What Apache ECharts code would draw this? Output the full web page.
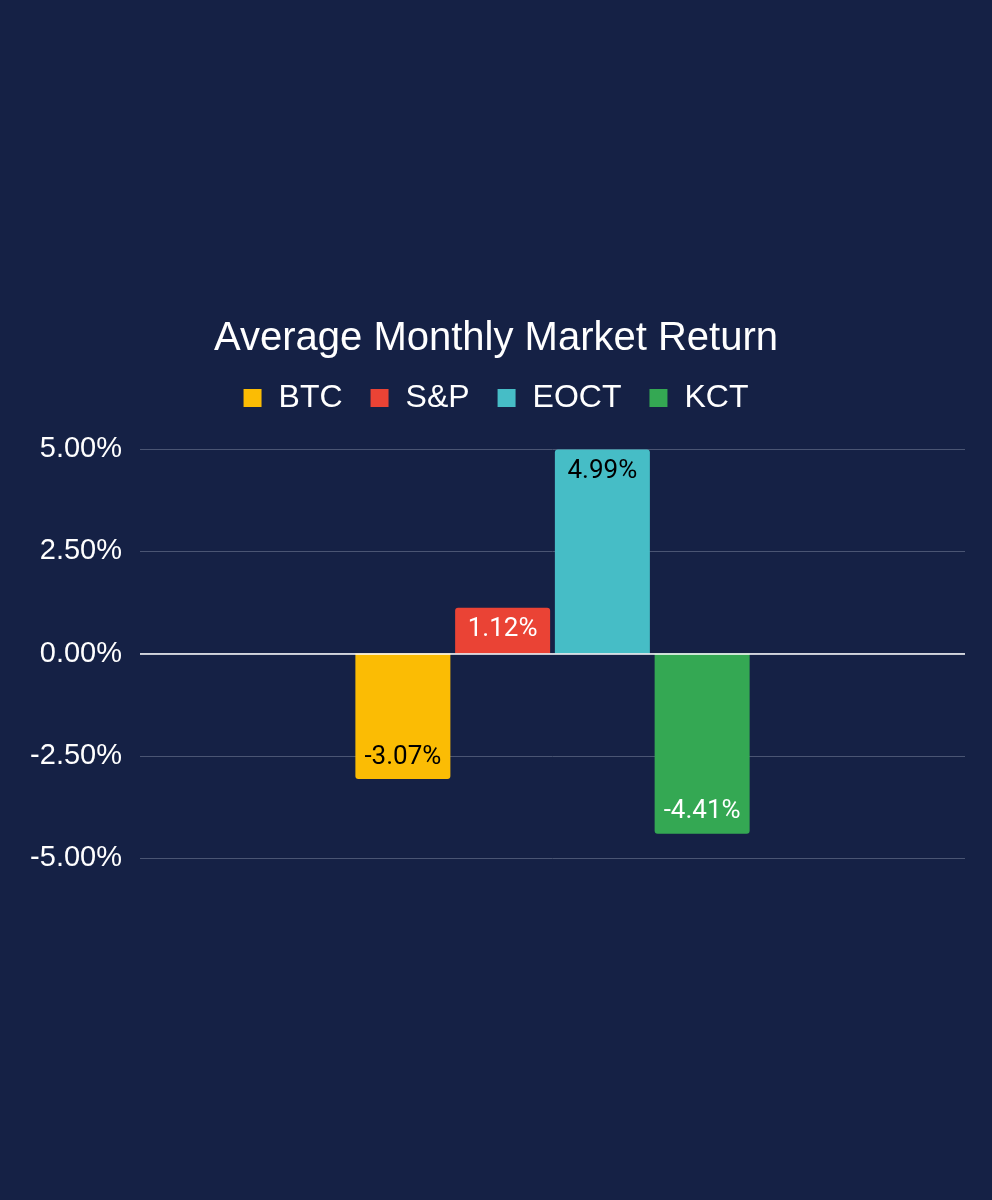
<!DOCTYPE html>
<html>
<head>
<meta charset="utf-8">
<script src="https://cdn.jsdelivr.net/npm/echarts@6/dist/echarts.min.js"></script>
<style>
  html, body { margin: 0; padding: 0; background: #152145; }
  #chart { width: 992px; height: 1200px; }
</style>
</head>
<body>
<div id="chart"></div>
<script>
// data
var seriesNames = ['BTC', 'S&P', 'EOCT', 'KCT'];
var seriesValues = [-3.07, 1.12, 4.99, -4.41];
var seriesColors = ['#fbbc04', '#ea4335', '#46bdc6', '#34a853'];
var labelColors = ['#000000', '#ffffff', '#000000', '#ffffff'];
var category = [''];

function makeSeries(i) {
    var v = seriesValues[i];
    var neg = v < 0;
    return {
        name: seriesNames[i],
        type: 'bar',
        barWidth: 95,
        barGap: '5%',
        data: [v],
        itemStyle: {
            color: seriesColors[i],
            borderRadius: neg ? [0, 0, 3, 3] : [3, 3, 0, 0]
        },
        label: {
            show: true,
            position: neg ? 'insideBottom' : 'insideTop',
            distance: 9,
            color: labelColors[i],
            fontFamily: 'Roboto',
            fontSize: 26,
            formatter: function (p) { return p.value.toFixed(2) + '%'; }
        }
    };
}

var chart = echarts.init(document.getElementById('chart'));
chart.setOption({
    backgroundColor: '#152145',
    animation: false,
    title: {
        text: 'Average Monthly Market Return',
        left: 'center',
        top: 314,
        textStyle: {
            color: '#ffffff',
            fontFamily: 'Liberation Sans',
            fontWeight: 'normal',
            fontSize: 40
        }
    },
    legend: {
        top: 377,
        left: 'center',
        icon: 'rect',
        itemWidth: 18,
        itemHeight: 18,
        itemGap: 28,
        textStyle: {
            color: '#ffffff',
            fontFamily: 'Liberation Sans',
            fontSize: 32,
            padding: [0, 0, 0, 12]
        },
        data: seriesNames
    },
    grid: {
        left: 140,
        right: 27,
        top: 449,
        bottom: 342,
        containLabel: false
    },
    xAxis: {
        type: 'category',
        data: category,
        axisLine: { show: false },
        axisTick: { show: false },
        axisLabel: { show: false }
    },
    yAxis: {
        type: 'value',
        min: -5,
        max: 5,
        interval: 2.5,
        axisLine: { show: false },
        axisTick: { show: false },
        axisLabel: {
            color: '#ffffff',
            fontFamily: 'Liberation Sans',
            fontSize: 29,
            margin: 18,
            formatter: function (v) { return v.toFixed(2) + '%'; }
        },
        splitLine: {
            lineStyle: { color: '#4a5573', width: 1 }
        }
    },
    series: seriesNames.map(function (n, i) { return makeSeries(i); }).concat([{
        type: 'line',
        data: [],
        markLine: {
            silent: true,
            symbol: 'none',
            label: { show: false },
            lineStyle: { color: '#ffffff', type: 'solid', width: 1.5 },
            data: [{ yAxis: 0 }]
        }
    }])
});
</script>
</body>
</html>
